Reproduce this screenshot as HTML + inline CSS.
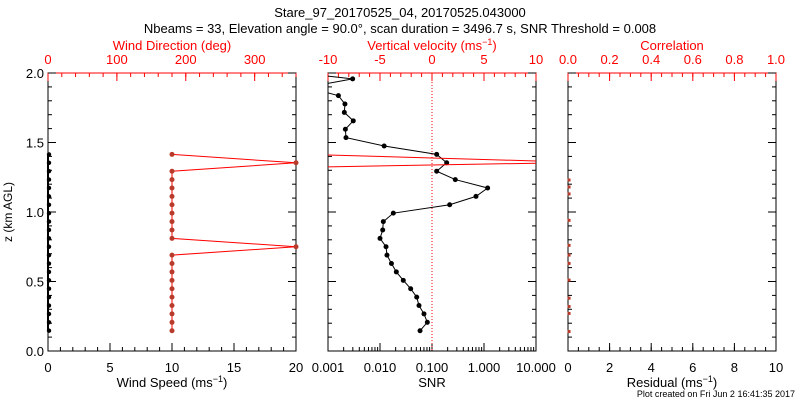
<!DOCTYPE html>
<html><head><meta charset="utf-8"><style>
body{margin:0;background:#fff}
svg{display:block;font-family:"Liberation Sans",sans-serif}
</style></head><body>
<svg id="s" width="800" height="400" viewBox="0 0 800 400">
<text x="400" y="17" font-size="13" text-anchor="middle">Stare_97_20170525_04, 20170525.043000</text>
<text x="400" y="33" font-size="13" text-anchor="middle">Nbeams = 33, Elevation angle = 90.0°, scan duration = 3496.7 s, SNR Threshold = 0.008</text>
<text x="795" y="397" font-size="9" text-anchor="end">Plot created on Fri Jun  2 16:41:35 2017</text>
<g id="g"></g>
</svg>
<script>
// shared heights
const heightsStart = 0.146, heightsStep = 0.0604;
const speedVals = [0,0,0,0,0,0,0,0,0,0,0,0,0,0,0,0,0,0,0,0,0,0];
const dirVals = [180,180,180,180,180,180,180,180,180,180,360,180,180,180,180,180,180,180,180,180,360,180];
const velVals = [-1.15,-0.45,-0.77,-1.25,-1.47,-2.05,-2.76,-3.43,-3.9,-4.33,-4.42,-5.0,-4.74,-4.68,-3.72,1.7,4.23,5.35,2.24,0.45,1.41,0.45,-4.6,-8.27,-8.33,-7.57,-8.43,-8.37,-9.0,-12,-7.63,-15];
const snrLineA = [[0.001,1.41],[10,1.367]];
const snrLineB = [[0.001,1.325],[10,1.351]];
const residZ = [1.23,1.18,1.13,0.94,0.76,0.69,0.63,0.51,0.38,0.32,0.27,0.14];
const residVals = [0.05,0.05,0.05,0.05,0.05,0.05,0.05,0.05,0.05,0.05,0.05,0.05];
const speedTicks = [0,5,10,15,20];
const dirTicks = [0,100,200,300];
const velTicks = [-10,-5,0,5,10];
const snrTicks = ["0.001","0.010","0.100","1.000","10.000"];
const corrTicks = ["0.0","0.2","0.4","0.6","0.8","1.0"];
const residTicks = [0,2,4,6,8,10];
const zTicks = ["0.0","0.5","1.0","1.5","2.0"];

const NS="http://www.w3.org/2000/svg", G=document.getElementById('g');
function el(t,a,txt){const e=document.createElementNS(NS,t);for(const k in a)e.setAttribute(k,a[k]);if(txt!==undefined)e.textContent=txt;G.appendChild(e);return e;}
const Y0=351,Y1=73;
const yz=z=>Y0-(z/2)*(Y0-Y1);
const P1=[48,296],P2=[328,536],P3=[568,776];
const lin=(p,a,b)=>v=>p[0]+(v-a)/(b-a)*(p[1]-p[0]);
const xs=lin(P1,0,20), xd=lin(P1,0,360), xv=lin(P2,-10,10), xsnr=v=>lin(P2,-3,1)(Math.log10(v)), xc=lin(P3,0,1), xr=lin(P3,0,10);
const zAt=i=>heightsStart+heightsStep*i;

function frame(p,name){
  const r=el('rect',{x:p[0],y:Y1,width:p[1]-p[0],height:Y0-Y1,fill:'none',stroke:'#000','stroke-width':1});
  
  const t=el('line',{x1:p[0],y1:Y1,x2:p[1],y2:Y1,stroke:'red'});
  
}
function ticksX(f,a,b,step,y,dir,col,len){for(let v=a;v<=b+1e-9;v+=step){const x=f(v);const l=el('line',{x1:x,y1:y,x2:x,y2:y+dir*len,stroke:col});}}
function labelsX(f,vals,y,col,name){vals.forEach(v=>{const t=el('text',{x:f(+v),y:y,'font-size':13,'text-anchor':'middle',fill:col},String(v));});}

[[P1,'wind-panel'],[P2,'velocity-panel'],[P3,'correlation-panel']].forEach(([p,n])=>{
  frame(p,n);
  for(let z=0;z<=2.001;z+=0.1){const y=yz(z),L=(Math.round(z*10)%5==0)?8:4;
    let a=el('line',{x1:p[0],y1:y,x2:p[0]+L,y2:y,stroke:'#000'});
    a=el('line',{x1:p[1],y1:y,x2:p[1]-L,y2:y,stroke:'#000'});}
});
zTicks.forEach(v=>{const t=el('text',{x:44,y:yz(+v)+5,'font-size':13,'text-anchor':'end'},v);});
const yt=el('text',{x:0,y:0,'font-size':12,'text-anchor':'middle',transform:'translate(12,212) rotate(-90)'},'z (km AGL)');


// panel 1 axes
ticksX(xs,0,20,1,Y0,-1,'#000',4);ticksX(xs,0,20,5,Y0,-1,'#000',8);
ticksX(xd,0,360,20,Y1,1,'red',4);ticksX(xd,0,300,100,Y1,1,'red',8);
labelsX(xs,speedTicks,372,'#000','speed-tick-label');labelsX(xd,dirTicks,64,'red','direction-tick-label');
let t=el('text',{x:172,y:387,'font-size':13,'text-anchor':'middle'});t.innerHTML='Wind Speed (ms<tspan dy="-5" font-size="9">−1</tspan><tspan dy="5">)</tspan>';

t=el('text',{x:172,y:50,'font-size':13,'text-anchor':'middle',fill:'red'},'Wind Direction (deg)');


// panel 2 axes
for(let d=-3;d<1;d++)for(let m=1;m<10;m++){const x=xsnr(m*Math.pow(10,d));const l=el('line',{x1:x,y1:Y0,x2:x,y2:Y0-(m==1?8:4),stroke:'#000'});}
snrTicks.forEach(v=>{const tt=el('text',{x:xsnr(+v),y:372,'font-size':13,'text-anchor':'middle'},v);});
ticksX(xv,-10,10,1,Y1,1,'red',4);ticksX(xv,-10,10,5,Y1,1,'red',8);
labelsX(xv,velTicks,64,'red','velocity-tick-label');
t=el('text',{x:432,y:387,'font-size':13,'text-anchor':'middle'},'SNR');
t=el('text',{x:432,y:50,'font-size':13,'text-anchor':'middle',fill:'red'});t.innerHTML='Vertical velocity (ms<tspan dy="-5" font-size="9">−1</tspan><tspan dy="5">)</tspan>';

t=el('line',{x1:xv(0),y1:Y1,x2:xv(0),y2:Y0,stroke:'red','stroke-dasharray':'1,2'});

// panel 3 axes
ticksX(xr,0,10,0.5,Y0,-1,'#000',4);ticksX(xr,0,10,2,Y0,-1,'#000',8);
ticksX(xc,0,1,0.05,Y1,1,'red',4);ticksX(xc,0,1,0.2,Y1,1,'red',8);
labelsX(xr,residTicks,372,'#000','residual-tick-label');labelsX(xc,corrTicks,64,'red','correlation-tick-label');
t=el('text',{x:672,y:387,'font-size':13,'text-anchor':'middle'});t.innerHTML='Residual (ms<tspan dy="-5" font-size="9">−1</tspan><tspan dy="5">)</tspan>';

t=el('text',{x:672,y:50,'font-size':13,'text-anchor':'middle',fill:'red'},'Correlation');

// clip paths
const defs=el('defs',{});
[['c1',P1],['c2',P2],['c3',P3]].forEach(([id,p])=>{const c=document.createElementNS(NS,'clipPath');c.setAttribute('id',id);const r=document.createElementNS(NS,'rect');r.setAttribute('x',p[0]);r.setAttribute('y',Y1);r.setAttribute('width',p[1]-p[0]);r.setAttribute('height',Y0-Y1);c.appendChild(r);defs.appendChild(c);});

// series: wind direction
let pts=dirVals.map((v,i)=>xd(v)+','+yz(zAt(i))).join(' ');
t=el('polyline',{points:pts,fill:'none',stroke:'red'});
dirVals.forEach((v,i)=>{const c=el('circle',{cx:xd(v),cy:yz(zAt(i)),r:2.5,fill:'#b83a2a'});});
t=el('polyline',{points:speedVals.map((v,i)=>xs(v)+','+yz(zAt(i))).join(' '),fill:'none',stroke:'#000','stroke-width':2});
speedVals.forEach((v,i)=>{const c=el('circle',{cx:xs(v)+1,cy:yz(zAt(i)),r:2.2,fill:'#000'});});

// velocity
t=el('polyline',{points:velVals.map((v,i)=>xv(v)+','+yz(zAt(i))).join(' '),fill:'none',stroke:'#000','clip-path':'url(#c2)'});
velVals.forEach((v,i)=>{if(v<-10||v>10)return;const c=el('circle',{cx:xv(v),cy:yz(zAt(i)),r:2.5,fill:'#000'});});
[snrLineA,snrLineB].forEach(L=>{const l=el('polyline',{points:L.map(([s,z])=>xsnr(s)+','+yz(z)).join(' '),fill:'none',stroke:'red'});});

// residual
residVals.forEach((v,i)=>{const c=el('rect',{x:xr(v)-1.5,y:yz(residZ[i])-1.5,width:3,height:3,fill:'#b83a2a'});});
</script>
</body></html>
